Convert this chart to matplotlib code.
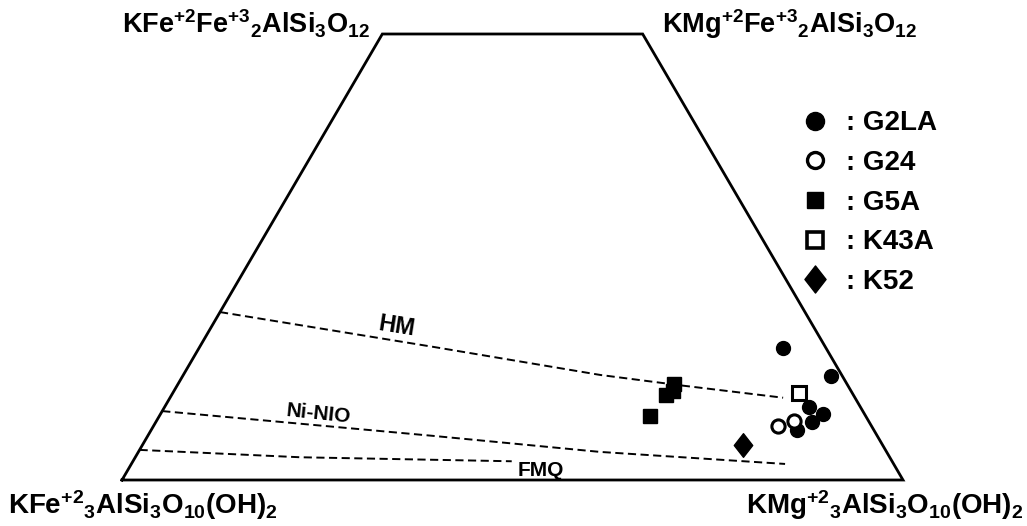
import matplotlib
matplotlib.use('Agg')
import matplotlib.pyplot as plt
from matplotlib.lines import Line2D
from matplotlib.path import Path
import matplotlib.transforms as mtransforms

plt.rcParams['font.family'] = ['Liberation Sans', 'DejaVu Sans']
plt.rcParams['font.weight'] = 'bold'
plt.rcParams['mathtext.fontset'] = 'custom'
plt.rcParams['mathtext.rm'] = 'Liberation Sans:bold'
plt.rcParams['mathtext.bf'] = 'Liberation Sans:bold'
plt.rcParams['mathtext.it'] = 'Liberation Sans:bold'
plt.rcParams['mathtext.default'] = 'bf'

# ---------------- data (Mg fraction, Fe3+ fraction) ----------------
fe3_top = 2 / 3  # truncation of the Fe2+ - Mg - Fe3+ triangle

label_tl = r'$KFe^{+2}Fe^{+3}{}_{2}AlSi_{3}O_{12}$'
label_tr = r'$KMg^{+2}Fe^{+3}{}_{2}AlSi_{3}O_{12}$'
label_bl = r'$KFe^{+2}{}_{3}AlSi_{3}O_{10}(OH)_{2}$'
label_br = r'$KMg^{+2}{}_{3}AlSi_{3}O_{10}(OH)_{2}$'

series_names = [': G2LA', ': G24', ': G5A', ': K43A', ': K52']

g2la_mg = [0.748, 0.830, 0.825, 0.848, 0.840, 0.827]
g2la_fe3 = [0.197, 0.156, 0.109, 0.099, 0.087, 0.075]
g24_mg = [0.800, 0.816]
g24_fe3 = [0.081, 0.088]
g5a_mg = [0.635, 0.639, 0.633, 0.628]
g5a_fe3 = [0.144, 0.133, 0.127, 0.096]
k43a_mg = [0.802]
k43a_fe3 = [0.130]
k52_mg = [0.769]
k52_fe3 = [0.052]

buffer_names = ['HM', 'Ni-NIO', 'FMQ']
hm_mg = [0.0, 0.299, 0.534, 0.648, 0.785]
hm_fe3 = [0.251, 0.199, 0.157, 0.141, 0.123]
nno_mg = [0.0, 0.365, 0.591, 0.837]
nno_fe3 = [0.103, 0.066, 0.042, 0.024]
fmq_mg = [0.0, 0.211, 0.485]
fmq_fe3 = [0.045, 0.034, 0.028]


def to_xy(mg, fe3):
    return [m + f / 2 for m, f in zip(mg, fe3)], list(fe3)


W, H = 1027, 526
fig = plt.figure(figsize=(W / 100, H / 100), dpi=100)
ax = fig.add_axes([122 / W, (H - 480) / H, 781 / W, 446 / H])
ax.set_xlim(0, 1)
ax.set_ylim(0, fe3_top)
ax.axis('off')

# outline
out_mg = [0, 1, 1 - fe3_top, 0, 0]
out_fe3 = [0, 0, fe3_top, fe3_top, 0]
ox, oy = to_xy(out_mg, out_fe3)
ax.plot(ox, oy, color='black', lw=2.0, solid_joinstyle='miter', clip_on=False, zorder=2)

# buffers
for mg, fe3 in [(hm_mg, hm_fe3), (nno_mg, nno_fe3), (fmq_mg, fmq_fe3)]:
    bx, by = to_xy(mg, fe3)
    ax.plot(bx, by, color='black', lw=1.4, dashes=(4.2, 2.3), zorder=1)

ax.text(0.352, 0.229, buffer_names[0], fontsize=17, fontweight='bold', rotation=-9,
        ha='center', va='center')
ax.text(0.251, 0.099, buffer_names[1], fontsize=15, fontweight='bold', rotation=-6,
        ha='center', va='center')
ax.text(0.5365, 0.0135, buffer_names[2], fontsize=15, fontweight='bold',
        ha='center', va='center')

# diamond marker
dia = Path([(0, 1), (0.78, 0), (0, -1), (-0.78, 0), (0, 1)],
           [Path.MOVETO, Path.LINETO, Path.LINETO, Path.LINETO, Path.CLOSEPOLY])

styles = [
    dict(marker='o', ms=10, mfc='black', mec='black', mew=1),
    dict(marker='o', ms=9.5, mfc='white', mec='black', mew=2.2),
    dict(marker='s', ms=10.5, mfc='black', mec='black', mew=1),
    dict(marker='s', ms=9.5, mfc='white', mec='black', mew=2.2),
    dict(marker=dia, ms=17, mfc='black', mec='black', mew=1),
]
legend_styles = [
    dict(marker='o', ms=13, mfc='black', mec='black', mew=1),
    dict(marker='o', ms=11.5, mfc='white', mec='black', mew=2.4),
    dict(marker='s', ms=12, mfc='black', mec='black', mew=1),
    dict(marker='s', ms=11, mfc='white', mec='black', mew=2.6),
    dict(marker=dia, ms=19.5, mfc='black', mec='black', mew=1),
]
data = [(g2la_mg, g2la_fe3), (g24_mg, g24_fe3), (g5a_mg, g5a_fe3),
        (k43a_mg, k43a_fe3), (k52_mg, k52_fe3)]
for (mg, fe3), st in zip(data, styles):
    px, py = to_xy(mg, fe3)
    ax.plot(px, py, linestyle='none', zorder=3, clip_on=False, **st)

handles = [Line2D([], [], linestyle='none', **st) for st in legend_styles]
fig.legend(handles, series_names, loc='upper left',
           bbox_to_anchor=(801 / W, 1 - 110.4 / H), bbox_transform=fig.transFigure,
           frameon=False, borderpad=0, borderaxespad=0, handlelength=1.0,
           handletextpad=0.62, labelspacing=0.49,
           prop=dict(family='Liberation Sans', weight='bold', size=20))

# end-member labels
def off(dx, dy):
    return mtransforms.offset_copy(ax.transData, fig=fig, x=dx, y=dy, units='dots')

vx, vy = to_xy([0, 1 - fe3_top, 0, 1], [fe3_top, fe3_top, 0, 0])
ax.text(vx[0], vy[0], label_tl, fontsize=19.5, ha='right', va='baseline',
        transform=off(-13, 0))
ax.text(vx[1], vy[1], label_tr, fontsize=19.5, ha='left', va='baseline',
        transform=off(19, 1))
ax.text(vx[2], vy[2], label_bl, fontsize=20, ha='center', va='baseline',
        transform=off(20.5, -34))
ax.text(vx[3], vy[3], label_br, fontsize=20, ha='center', va='baseline',
        transform=off(-18, -34))

fig.savefig('out.png', dpi=100)
